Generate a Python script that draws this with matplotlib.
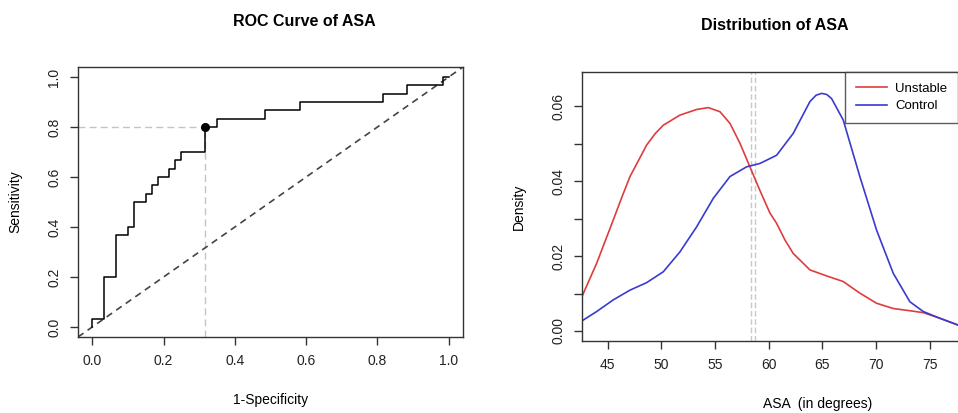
import numpy as np
import matplotlib
matplotlib.use('Agg')
import matplotlib.pyplot as plt

plt.rcParams['font.family'] = ['Liberation Sans', 'DejaVu Sans']

### ROC data (60 controls, 30 unstable)
fpr_counts = [0, 2, 4, 6, 7, 9, 10, 11, 13, 14, 15, 19, 21, 29, 35, 49, 53, 59, 60]
tpr_counts = [0, 1, 6, 11, 12, 15, 16, 17, 18, 19, 20, 21, 24, 25, 26, 27, 28, 29, 30]
n_control = 60
n_unstable = 30
cut_fpr = 19 / 60
cut_tpr = 0.8

### density curves
asa_unstable = [42.6, 43.97, 45.51, 46.3, 47.07, 48.62, 49.4, 50.17, 51.72, 53.28, 54.36, 55.45,
                56.38, 57.31, 58.24, 59.17, 60.1, 60.73, 61.5, 62.27, 63.83, 65.38, 66.93,
                68.48, 70.04, 71.59, 73.14, 74.38, 75.93, 77.61, 79.5]
dens_unstable = [0.0092, 0.0181, 0.0296, 0.0356, 0.0412, 0.0496, 0.0526, 0.0549, 0.0576, 0.0591, 0.0596, 0.0585,
                 0.0554, 0.0501, 0.0438, 0.0375, 0.0315, 0.0287, 0.0243, 0.0207, 0.0163, 0.0147, 0.0132,
                 0.0101, 0.0074, 0.0060, 0.0054, 0.0049, 0.0034, 0.0016, 0.0005]
asa_control = [42.6, 43.97, 45.51, 47.07, 48.62, 50.17, 51.72, 53.28, 54.83, 56.38,
               57.93, 59.17, 60.1, 60.73, 62.27, 63.83, 64.4, 64.92, 65.4, 65.85, 66.93, 68.48,
               70.04, 71.59, 73.14, 74.38, 75.93, 77.61, 79.5]
dens_control = [0.0027, 0.0052, 0.0083, 0.0109, 0.0129, 0.0158, 0.0211, 0.0278, 0.0354, 0.0412,
                0.0438, 0.0447, 0.0460, 0.0469, 0.0527, 0.0612, 0.0629, 0.0634, 0.0631, 0.0620, 0.0563, 0.0412,
                0.0269, 0.0154, 0.0078, 0.0052, 0.0034, 0.0016, 0.0005]
vlines_asa = [58.35, 58.75]

fpr = np.array(fpr_counts) / n_control
tpr = np.array(tpr_counts) / n_unstable

fig = plt.figure(figsize=(9.58, 4.13), dpi=100)

### ROC panel
ax1 = fig.add_axes([78/958, 1-337/413, (463-78)/958, (337-67)/413])
ax1.plot([-0.04, cut_fpr], [cut_tpr, cut_tpr], color='#c4c4c4', lw=1, dashes=(5, 3))
ax1.plot([cut_fpr, cut_fpr], [-0.04, cut_tpr], color='#c4c4c4', lw=1, dashes=(5, 3))
ax1.plot([-0.04, 1.04], [-0.04, 1.04], color='#444444', lw=1.2, dashes=(4, 3))
ax1.plot(fpr, tpr, drawstyle='steps-pre', color='black', lw=1.1)
ax1.plot([cut_fpr], [cut_tpr], 'o', color='black', ms=5.5)
ax1.set_xlim(-0.04, 1.04)
ax1.set_ylim(-0.04, 1.04)
ax1.set_xticks([0, 0.2, 0.4, 0.6, 0.8, 1.0])
ax1.set_xticklabels(['0.0', '0.2', '0.4', '0.6', '0.8', '1.0'])
ax1.set_yticks([0, 0.2, 0.4, 0.6, 0.8, 1.0])
ax1.set_yticklabels(['0.0', '0.2', '0.4', '0.6', '0.8', '1.0'], rotation=90, va='center')
ax1.set_xlabel('1-Specificity', fontsize=10, va='center')
ax1.set_ylabel('Sensitivity', fontsize=10, va='center')
ax1.xaxis.set_label_coords(0.5, -(400-337)/270)
ax1.yaxis.set_label_coords(-(78-15)/385, 0.5)
fig.text(304/958, 1-21/413, 'ROC Curve of ASA', fontsize=11.5, fontweight='bold',
         ha='center', va='center')

### density panel
ax2 = fig.add_axes([582/958, 1-341/413, 423/958, (341-72)/413])
for v in vlines_asa:
    ax2.axvline(v, color='#c8c8c8', lw=1, dashes=(4, 2))
ax2.plot(asa_unstable, dens_unstable, color='#e03c3c', lw=1.2, label='Unstable')
ax2.plot(asa_control, dens_control, color='#3a3ad0', lw=1.2, label='Control')
ax2.set_xlim(42.6, 82)
ax2.set_ylim(-0.00267, 0.0691)
ax2.set_xticks([45, 50, 55, 60, 65, 70, 75])
ax2.set_yticks([0, 0.01, 0.02, 0.03, 0.04, 0.05, 0.06])
ax2.set_yticklabels(['0.00', '', '0.02', '', '0.04', '', '0.06'], rotation=90, va='center')
ax2.set_xlabel('ASA  (in degrees)', fontsize=10, va='center')
ax2.set_ylabel('Density', fontsize=10, va='center')
ax2.xaxis.set_label_coords((817.5-582)/423, -(404-341)/269)
ax2.yaxis.set_label_coords(-(582-519)/423, 0.5)
fig.text(775/958, 1-25/413, 'Distribution of ASA', fontsize=11.5, fontweight='bold',
         ha='center', va='center')
leg = ax2.legend(loc='upper left', bbox_to_anchor=(845/958, 1-72/413),
                 bbox_transform=fig.transFigure, fontsize=9.5, frameon=True,
                 fancybox=False, borderaxespad=0, handlelength=2.4, borderpad=0.8,
                 labelspacing=0.4, handletextpad=0.6)
leg.get_frame().set_edgecolor('#333333')
leg.get_frame().set_linewidth(1)

for ax in (ax1, ax2):
    for s in ax.spines.values():
        s.set_color('#333333')
        s.set_linewidth(1)
    ax.tick_params(direction='out', length=6, width=1, color='#333333',
                   labelsize=10, labelcolor='#222222', pad=6)

fig.savefig('out.png', dpi=100)
